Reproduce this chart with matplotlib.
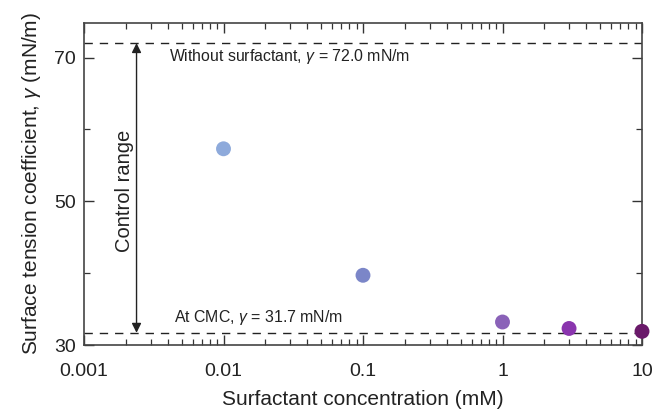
import matplotlib
matplotlib.use("Agg")
import matplotlib.pyplot as plt
from matplotlib.ticker import LogLocator, FixedLocator, NullFormatter

plt.rcParams['font.family'] = ['Liberation Sans', 'DejaVu Sans']
plt.rcParams['mathtext.fontset'] = 'custom'
plt.rcParams['mathtext.it'] = 'Liberation Sans:italic'
plt.rcParams['mathtext.rm'] = 'Liberation Sans'

conc = [0.01, 0.1, 1, 3, 10]
gamma = [57.3, 39.7, 33.2, 32.3, 31.9]
colors = ['#8eaadb', '#7b86c8', '#8a62b8', '#8a35ae', '#6a1a6a']
gamma_water = 72.0
gamma_cmc = 31.7
xticks = [0.001, 0.01, 0.1, 1, 10]
xticklabels = ['0.001', '0.01', '0.1', '1', '10']
yticks_major = [30, 50, 70]
yticks_minor = [40, 60]

fig = plt.figure(figsize=(6.55, 4.12), dpi=100)
ax = fig.add_axes([84/655, 1-345/412, (642-84)/655, (345-23)/412])

ax.set_xscale('log')
ax.set_xlim(0.001, 10)
ax.set_ylim(30, 74.8)

ax.axhline(gamma_water, color='#222222', lw=1.0, dashes=(6, 5))
ax.axhline(gamma_cmc, color='#222222', lw=1.0, dashes=(6, 5))

ax.scatter(conc, gamma, s=115, c=colors, edgecolors='none', zorder=3, clip_on=False)

ax.annotate('', xy=(0.00238, gamma_water), xytext=(0.00238, gamma_cmc),
            arrowprops=dict(arrowstyle='<|-|>', color='#222222', lw=1.0,
                            mutation_scale=14, shrinkA=0, shrinkB=0))
ax.text(0.00195, 51.5, 'Control range', rotation=90, ha='center', va='center',
        fontsize=14.5, color='#222222')
ax.text(0.0041, 70.2, r'Without surfactant, $\gamma$ = 72.0 mN/m', ha='left', va='center',
        fontsize=11.4, color='#222222')
ax.text(0.0044, 33.8, r'At CMC, $\gamma$ = 31.7 mN/m', ha='left', va='center',
        fontsize=11.4, color='#222222')

ax.set_xticks(xticks)
ax.set_xticklabels(xticklabels)
ax.xaxis.set_minor_locator(LogLocator(base=10, subs=range(2, 10), numticks=20))
ax.xaxis.set_minor_formatter(NullFormatter())
ax.set_yticks(yticks_major)
ax.yaxis.set_minor_locator(FixedLocator(yticks_minor))

ax.tick_params(which='both', direction='in', top=True, right=True, colors='#333333',
               labelcolor='#222222', labelsize=14)
ax.tick_params(axis='x', which='both', pad=13)
ax.tick_params(axis='y', which='both', pad=6)
ax.tick_params(which='major', length=7, width=1.0)
ax.tick_params(which='minor', length=4, width=0.9)
for s in ax.spines.values():
    s.set_color('#444444')
    s.set_linewidth(1.2)

ax.set_xlabel('Surfactant concentration (mM)', fontsize=15, color='#222222', labelpad=7)
ax.set_ylabel(r'Surface tension coefficient, $\gamma$ (mN/m)', fontsize=15, color='#222222', labelpad=8)

fig.savefig('out.png', dpi=100)
